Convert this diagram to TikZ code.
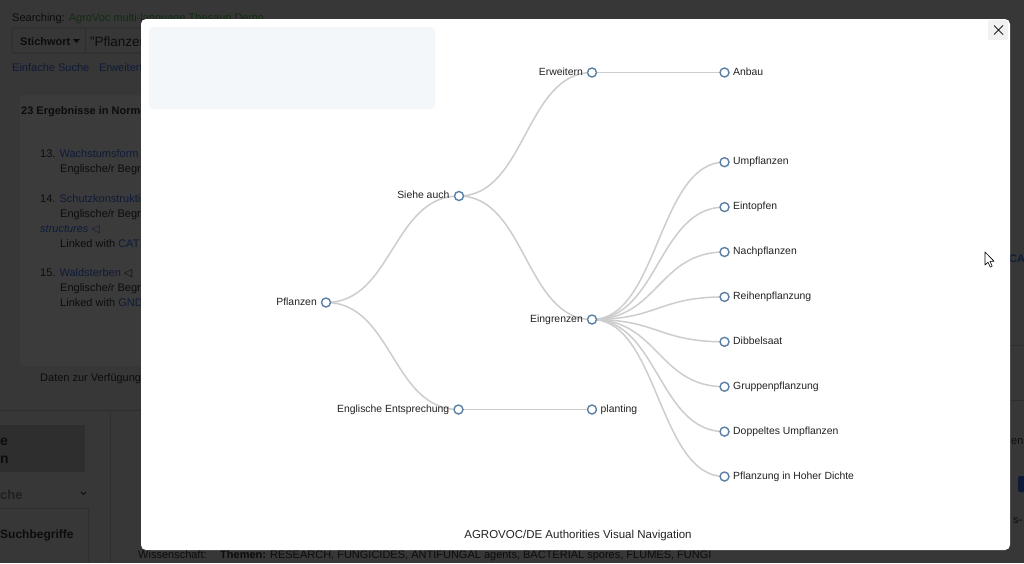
\documentclass[tikz,border=0pt]{standalone}
\usepackage{fontspec}
\setmainfont{Liberation Sans}
\newfontfamily\symfont{DejaVu Sans}
\usetikzlibrary{calc}
\definecolor{pagedim}{HTML}{373737}
\definecolor{cardbg}{HTML}{3B3B3B}
\definecolor{bgline}{HTML}{2E2E2E}
\definecolor{bgtext}{HTML}{0C0C0C}
\definecolor{bglink}{HTML}{0E1B38}
\definecolor{bggreen}{HTML}{122B12}
\definecolor{nodeblue}{HTML}{5B80A5}
\definecolor{linkgrey}{HTML}{CDCDCD}
\definecolor{labtext}{HTML}{222222}
\definecolor{panel}{HTML}{F4F7FA}
\definecolor{closebg}{HTML}{F1F1F1}
\pgfdeclarelayer{back}
\pgfdeclarelayer{links}
\pgfsetlayers{back,links,main}
\newcommand{\dlink}[2]{\draw[link] let \p1=(#1.center), \p2=(#2.center) in
  (\p1) .. controls ({0.5*\x1+0.5*\x2},\y1) and ({0.5*\x1+0.5*\x2},\y2) .. (\p2);}
\begin{document}
\begin{tikzpicture}[x=1pt,y=-1pt,
  dot/.style={circle,draw=nodeblue,fill=white,line width=1.4pt,minimum size=9pt,inner sep=0pt},
  link/.style={draw=linkgrey,line width=1.5pt},
  lab/.style={font=\fontsize{10.4}{12}\selectfont,text=labtext,inner sep=0pt},
  llab/.style={lab,anchor=mid east},
  rlab/.style={lab,anchor=mid west},
  bgt/.style={font=\fontsize{11}{13}\selectfont,text=bgtext,inner sep=0pt,anchor=base west},
  bgl/.style={bgt,text=bglink}]
\useasboundingbox (0,0) rectangle (1024,563);
\begin{pgfonlayer}{back}
% dimmed page
\fill[pagedim] (0,0) rectangle (1024,563);
\fill[cardbg,rounded corners=4] (20,95) rectangle (160,366);
\draw[bgline] (0,410) -- (141,410);
\draw[bgline] (110,412) -- (110,563);
\fill[bgline] (0,425) rectangle (85,472);
\draw[bgline] (0,508) -- (88,508) -- (88,563);
\draw[bgline] (1010,345) -- (1024,345);
\draw[bgline] (1010,400) -- (1024,400);
\fill[bglink,rounded corners=2] (1018,476) rectangle (1026,492);
\node[bgt] (s1) at (12,21) {Searching: \textcolor{bggreen}{AgroVoc multi-language Thesauri Demo}};
\draw[bgline,line width=1pt,rounded corners=2] (12,28) rectangle (160,53);
\draw[bgline,line width=1pt] (85,28) -- (85,53);
\node[bgt,font=\fontsize{11}{13}\selectfont\bfseries] (s2) at (20,45) {Stichwort};
\fill[bgtext] (73,39) -- (80,39) -- (76.5,43) -- cycle;
\node[bgt,font=\fontsize{13.5}{16}\selectfont] (s3) at (90,46) {"Pflanzen};
\node[bgl] (s4) at (12,71) {Einfache Suche};
\node[bgl] (s5) at (99,71) {Erweiterte};
\node[bgt,font=\fontsize{11}{13}\selectfont\bfseries] (s6) at (21,114) {23 Ergebnisse in Normdaten};
\node[bgt] (s7) at (40,157) {13. \textcolor{bglink}{Wachstumsform} {\symfont ◁}};
\node[bgt] (s8) at (60,172) {Englische/r Begriff};
\node[bgt] (s9) at (40,202) {14. \textcolor{bglink}{Schutzkonstruktion}};
\node[bgt] (s10) at (60,217) {Englische/r Begriff};
\node[bgl] (s11) at (40,232) {\itshape structures {\upshape\symfont ◁}};
\node[bgt] (s12) at (60,247) {Linked with \textcolor{bglink}{CAT}};
\node[bgt] (s13) at (40,276) {15. \textcolor{bglink}{Waldsterben} {\symfont ◁}};
\node[bgt] (s14) at (60,291) {Englische/r Begriff};
\node[bgt] (s15) at (60,306) {Linked with \textcolor{bglink}{GND}};
\node[bgt] (s16) at (40,381) {Daten zur Verfügung gestellt};
\node[bgt,font=\fontsize{14}{16}\selectfont\bfseries] (s17) at (0,445) {e};
\node[bgt,font=\fontsize{14}{16}\selectfont\bfseries] (s18) at (0,463) {n};
\node[bgt,font=\fontsize{13}{15}\selectfont\bfseries,text=bgline!70!black] (s19) at (0,499) {che};
\draw[bgtext,line width=0.8pt] (81,492) -- (83.5,494.5) -- (86,492);
\node[bgt,font=\fontsize{12}{14}\selectfont\bfseries] (s20) at (0,538) {Suchbegriffe};
\node[bgt,font=\fontsize{11}{13}\selectfont\bfseries,text=bglink] (s21) at (1009,262) {CAT};
\node[bgt] (s22) at (1011,444) {en};
\node[bgt] (s23) at (1013,523) {s-};
\node[bgt] (s24) at (138,558) {Wissenschaft:};
\node[bgt] (s25) at (220,558) {\textbf{Themen:} RESEARCH, FUNGICIDES, ANTIFUNGAL agents, BACTERIAL spores, FLUMES, FUNGI};
% modal
\fill[white,rounded corners=5] (141,19) rectangle (1010,550);
\fill[panel,rounded corners=4] (149,27) rectangle (435,109);
\fill[closebg,rounded corners=2] (988,20) rectangle (1008,40);
\end{pgfonlayer}
% close button
\coordinate (cx) at (998.5,30);
\draw[labtext,line width=0.9pt] ($(cx)+(-4.5,-4.5)$) -- ($(cx)+(4.5,4.5)$)
  ($(cx)+(-4.5,4.5)$) -- ($(cx)+(4.5,-4.5)$);
% cursor
\draw[black,fill=white,line width=0.6pt,line join=round]
  (985,252) -- (985,265) -- (988,262.2) -- (990.3,267.2) -- (992.2,266.3) -- (990,261.4) -- (994,261.2) -- cycle;
% tree nodes
\node[dot] (pfl) at (326,302.5) {};
\node[dot] (sie) at (459,196) {};
\node[dot] (eng) at (458.5,409.5) {};
\node[dot] (erw) at (592,72.5) {};
\node[dot] (ein) at (592,319.5) {};
\node[dot] (pla) at (592,409.5) {};
\node[dot] (anb) at (724.5,72.5) {};
\node[dot] (ump) at (724.5,162.2) {};
\node[dot] (eto) at (724.5,207.1) {};
\node[dot] (nac) at (724.5,252) {};
\node[dot] (rei) at (724.5,296.9) {};
\node[dot] (dib) at (724.5,341.8) {};
\node[dot] (gru) at (724.5,386.7) {};
\node[dot] (dop) at (724.5,431.6) {};
\node[dot] (pid) at (724.5,476.5) {};
% labels
\node[llab] (lpfl) at ($(pfl)+(-9,0)$) {Pflanzen};
\node[llab] (lsie) at ($(sie)+(-9.5,0)$) {Siehe auch};
\node[llab] (leng) at ($(eng)+(-9,0)$) {Englische Entsprechung};
\node[llab] (lerw) at ($(erw)+(-9,0)$) {Erweitern};
\node[llab] (lein) at ($(ein)+(-9,0)$) {Eingrenzen};
\node[rlab] (lpla) at ($(pla)+(8.5,0)$) {planting};
\node[rlab] (lanb) at ($(anb)+(8.5,0)$) {Anbau};
\node[rlab] (lump) at ($(ump)+(8.5,0)$) {Umpflanzen};
\node[rlab] (leto) at ($(eto)+(8.5,0)$) {Eintopfen};
\node[rlab] (lnac) at ($(nac)+(8.5,0)$) {Nachpflanzen};
\node[rlab] (lrei) at ($(rei)+(8.5,0)$) {Reihenpflanzung};
\node[rlab] (ldib) at ($(dib)+(8.5,0)$) {Dibbelsaat};
\node[rlab] (lgru) at ($(gru)+(8.5,0)$) {Gruppenpflanzung};
\node[rlab] (ldop) at ($(dop)+(8.5,0)$) {Doppeltes Umpflanzen};
\node[rlab] (lpid) at ($(pid)+(8.5,0)$) {Pflanzung in Hoher Dichte};
\node[lab,font=\fontsize{11.5}{13}\selectfont] (title) at (578,536) {AGROVOC/DE Authorities Visual Navigation};
% links
\begin{pgfonlayer}{links}
\dlink{pfl}{sie}
\dlink{pfl}{eng}
\dlink{sie}{erw}
\dlink{sie}{ein}
\dlink{eng}{pla}
\dlink{erw}{anb}
\dlink{ein}{ump}
\dlink{ein}{eto}
\dlink{ein}{nac}
\dlink{ein}{rei}
\dlink{ein}{dib}
\dlink{ein}{gru}
\dlink{ein}{dop}
\dlink{ein}{pid}
\end{pgfonlayer}
\end{tikzpicture}
\end{document}
